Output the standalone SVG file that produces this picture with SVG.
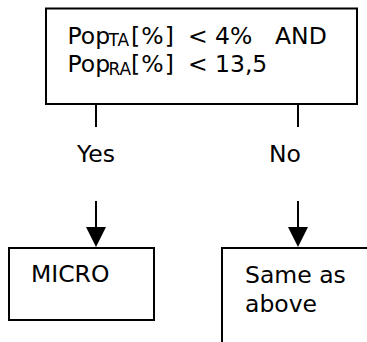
<svg xmlns="http://www.w3.org/2000/svg" width="367" height="342" viewBox="0 0 367 342">
  <style>
    .box { fill: #ffffff; stroke: #000000; stroke-width: 2; }
    .wire { fill: none; stroke: #000000; stroke-width: 2; }
    .t { font-family: "DejaVu Sans", Verdana, sans-serif; font-size: 23.5px; fill: #000000; }
    .sub { font-size: 17px; }
  </style>
  <defs>
    <marker id="head" markerUnits="userSpaceOnUse" markerWidth="20" markerHeight="20" refX="0" refY="10" orient="auto">
      <path d="M0,0 L20,10 L0,20 Z" fill="#000000"/>
    </marker>
  </defs>

  <rect width="367" height="342" fill="#ffffff"/>

  <!-- decision node -->
  <g id="n-condition">
    <rect class="box" x="46" y="8.5" width="311" height="95.5"/>
    <text class="t" y="43.5"><tspan x="67.5">Pop</tspan><tspan class="sub" x="108.5" dy="2.5">TA</tspan><tspan x="131" dy="-2.5" textLength="43">[%]</tspan><tspan x="188">&lt;</tspan><tspan x="215">4%</tspan><tspan x="275">AND</tspan></text>
    <text class="t" y="72"><tspan x="67.5">Pop</tspan><tspan class="sub" x="108.5" dy="2.5">RA</tspan><tspan x="131" dy="-2.5" textLength="43">[%]</tspan><tspan x="188">&lt;</tspan><tspan x="215">13,5</tspan></text>
  </g>

  <!-- result: yes branch -->
  <g id="n-micro">
    <rect class="box" x="9" y="248" width="145" height="72"/>
    <text class="t" x="31" y="282">MICRO</text>
  </g>

  <!-- result: no branch (continues past the page edge) -->
  <g id="n-same">
    <rect class="box" x="222" y="248" width="200" height="150"/>
    <text class="t" x="245" y="283">Same as</text>
    <text class="t" x="245" y="312">above</text>
  </g>

  <!-- connectors and branch labels -->
  <g id="connectors">
    <line class="wire" x1="96" y1="104" x2="96" y2="127"/>
    <line class="wire" x1="298" y1="104" x2="298" y2="127"/>
    <text class="t" x="77" y="162">Yes</text>
    <text class="t" x="269" y="162">No</text>
    <line class="wire" x1="96" y1="201" x2="96" y2="227" marker-end="url(#head)"/>
    <line class="wire" x1="298" y1="201" x2="298" y2="227" marker-end="url(#head)"/>
  </g>
</svg>
